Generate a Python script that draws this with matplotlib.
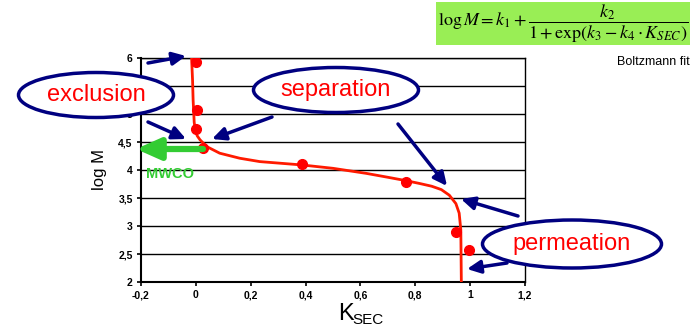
import numpy as np
import matplotlib
matplotlib.use("Agg")
import matplotlib.pyplot as plt
from matplotlib.patches import Ellipse, Rectangle, FancyArrowPatch

plt.rcParams['font.family'] = ['Liberation Sans', 'DejaVu Sans']
plt.rcParams['mathtext.fontset'] = 'stix'

# measured points
k_sec = [0.0, 0.005, 0.0, 0.027, 0.387, 0.766, 0.949, 0.996]
log_m = [5.92, 5.08, 4.73, 4.40, 4.10, 3.79, 2.90, 2.57]

# Boltzmann fit curve
fit_k = [-0.016, -0.012, -0.010, -0.006, -0.002, 0.005, 0.015, 0.039, 0.087, 0.16, 0.233,
         0.31, 0.387, 0.5, 0.621, 0.70, 0.766, 0.815, 0.860, 0.895, 0.924, 0.948,
         0.960, 0.966, 0.968]
fit_logm = [6.05, 5.6, 5.25, 4.85, 4.71, 4.61, 4.54, 4.42, 4.30, 4.21, 4.15,
            4.12, 4.09, 4.03, 3.94, 3.87, 3.81, 3.76, 3.71, 3.65, 3.55, 3.40,
            3.23, 2.93, 1.95]

x_ticks = [-0.2, 0, 0.2, 0.4, 0.6, 0.8, 1, 1.2]
x_labels = ['-0,2', '0', '0,2', '0,4', '0,6', '0,8', '1', '1,2']
y_ticks = [2, 2.5, 3, 3.5, 4, 4.5, 5, 5.5, 6]
y_labels = ['2', '2,5', '3', '3,5', '4', '4,5', '5', '5,5', '6']

W, H = 696, 330
fig = plt.figure(figsize=(W / 100, H / 100), dpi=100)

def fx(px):
    return px / W

def fy(py):
    return 1 - py / H

ax = fig.add_axes([fx(141), fy(282), fx(525) - fx(141), fy(58) - fy(282)])
ax.plot(fit_k, fit_logm, color='#ff1a00', lw=2, zorder=3)
ax.plot(k_sec, log_m, 'o', color='#ff0000', ms=7, zorder=4)
ax.set_xlim(-0.2, 1.2)
ax.set_ylim(2, 6)
ax.set_xticks(x_ticks)
ax.set_xticklabels(x_labels, fontsize=7.5, fontweight='bold')
ax.set_yticks(y_ticks)
ax.set_yticklabels(y_labels, fontsize=7.5, fontweight='bold')
ax.yaxis.grid(True, color='black', lw=1)
ax.set_axisbelow(True)
for s in ['left', 'bottom']:
    ax.spines[s].set_linewidth(1.5)
ax.spines['top'].set_linewidth(1)
ax.spines['right'].set_linewidth(1)
ax.tick_params(direction='out', length=3, width=1.2, pad=3)
ax.set_ylabel('log M', fontsize=12, labelpad=8)

# x label K_SEC
fig.text(fx(338), fy(314), 'K', fontsize=17, ha='left', va='center')
fig.text(fx(352), fy(320), 'SEC', fontsize=11, ha='left', va='center')

navy = '#000080'
# ellipses with labels
for cx, cy, w, h, txt in [(96, 95, 155, 45, 'exclusion'),
                          (336, 90, 165, 45, 'separation'),
                          (572, 244, 179, 48, 'permeation')]:
    e = Ellipse((fx(cx), fy(cy)), w / W, h / H, transform=fig.transFigure,
                facecolor='white', edgecolor=navy, lw=2.5, zorder=10)
    fig.add_artist(e)
    fig.text(fx(cx), fy(cy), txt, color='#ff0000', fontsize=17,
             ha='center', va='center', zorder=11)

# navy arrows
arrows = [((148, 63), (186, 56)),
          ((148, 122), (186, 139)),
          ((272, 117), (212, 139)),
          ((398, 124), (447, 186)),
          ((518, 216), (461, 199)),
          ((507, 263), (467, 269))]
for (x0, y0), (x1, y1) in arrows:
    fig.add_artist(FancyArrowPatch(
        (fx(x0), fy(y0)), (fx(x1), fy(y1)), transform=fig.transFigure,
        arrowstyle='-|>,head_length=5,head_width=2.4', color=navy, lw=2.5,
        mutation_scale=1.6, shrinkA=0, shrinkB=0, zorder=12))

# MWCO arrow
green = '#33cc33'
fig.add_artist(FancyArrowPatch(
    (fx(203), fy(149)), (fx(136), fy(149)), transform=fig.transFigure,
    arrowstyle='-|>,head_length=9,head_width=4', color=green, lw=4.5,
    mutation_scale=1.6, shrinkA=0, shrinkB=0, zorder=12))
fig.text(fx(146), fy(174), 'MWCO', color=green, fontsize=10.5,
         fontweight='bold', ha='left', va='center', zorder=12)

# formula box
fig.add_artist(Rectangle((fx(436), fy(45)), (690 - 436) / W, 43 / H,
                         transform=fig.transFigure, facecolor='#99ee55',
                         edgecolor='none', zorder=1))
fig.text(fx(563), fy(24),
         r'$\log M = k_1 + \dfrac{k_2}{1+\exp(k_3 - k_4\cdot K_{SEC})}$',
         fontsize=13, ha='center', va='center', zorder=2)
fig.text(fx(690), fy(62), 'Boltzmann fit', fontsize=9, ha='right', va='center')

fig.savefig('out.png', dpi=100)
